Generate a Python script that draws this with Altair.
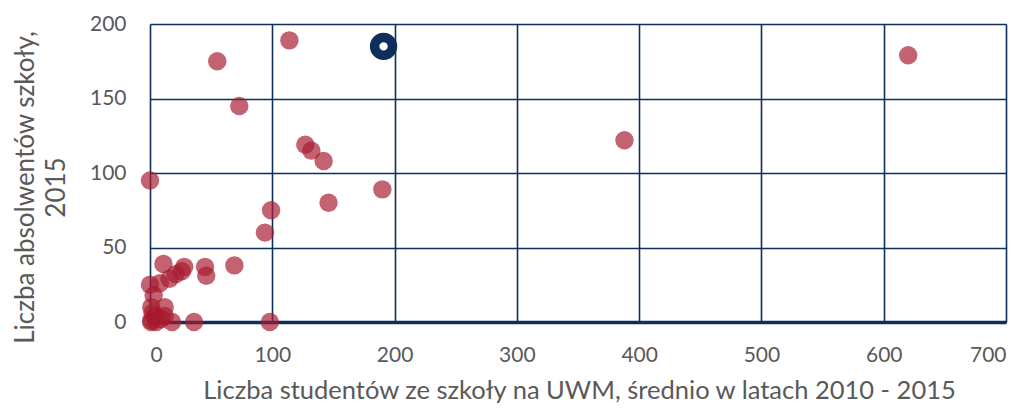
import altair as alt
import pandas as pd

# Data
students = [55, 114, 73, 620, 388, 0, 127, 132, 142, 190, 146, 99, 94, 69, 11, 28, 45, 46, 21, 26, 16,
            8, 0, 3, 1, 12, 4, 1, 2, 12, 5, 1, 18, 36, 98, 9]
graduates = [175, 189, 145, 179, 122, 95, 119, 115, 108, 89, 80, 75, 60, 38, 39, 37, 37, 31, 32, 34, 29,
             26, 25, 18, 10, 10, 4, 1, 6, 4, 0, 0, 0, 0, 0, 2]
hl_students = [191]
hl_graduates = [185]

x_ticks = [0, 100, 200, 300, 400, 500, 600, 700]
y_ticks = [0, 50, 100, 150, 200]

df = pd.DataFrame({"x": students, "y": graduates})
hl = pd.DataFrame({"x": hl_students, "y": hl_graduates})

NAVY = "#0e2f5c"
GREY = "#595959"
FONT = "Lato"

xscale = alt.Scale(domain=[0, 700], nice=False, zero=True)
yscale = alt.Scale(domain=[0, 200], nice=False, zero=True)

xaxis = alt.Axis(
    values=x_ticks, grid=True, gridColor=NAVY, gridWidth=1.6, gridOpacity=1,
    domain=True, domainColor=NAVY, domainWidth=3.5, ticks=False,
    labelFont=FONT, labelFontSize=21, labelColor=GREY, labelPadding=22,
    title="Liczba studentów ze szkoły na UWM, średnio w latach 2010 - 2015",
    titleFont=FONT, titleFontSize=25.5, titleFontWeight="normal", titleColor=GREY,
    titleX=429, titleY=56, titleBaseline="top", titleAlign="center",
)
yaxis = alt.Axis(
    values=y_ticks, grid=True, gridColor=NAVY, gridWidth=1.6, gridOpacity=1,
    domain=False, ticks=False,
    labelFont=FONT, labelFontSize=21, labelColor=GREY, labelPadding=24,
    title=["Liczba absolwentów szkoły,", "2015"],
    titleFont=FONT, titleFontSize=26, titleFontWeight="normal", titleColor=GREY,
    titleAngle=-90, titleX=-138, titleY=163, titleBaseline="top", titleAlign="center",
    titleLineHeight=31,
)

points = alt.Chart(df).mark_circle(size=340, color="#a6192e", opacity=0.68).encode(
    x=alt.X("x:Q", scale=xscale, axis=xaxis),
    y=alt.Y("y:Q", scale=yscale, axis=yaxis),
)

highlight = alt.Chart(hl).mark_point(
    shape="circle", size=320, filled=False, stroke=NAVY, strokeWidth=9.5, fill="white", fillOpacity=1, opacity=1
).encode(
    x=alt.X("x:Q", scale=xscale),
    y=alt.Y("y:Q", scale=yscale),
)

chart = (points + highlight).properties(
    width=856, height=298,
    autosize=alt.AutoSizeParams(type="none"),
    padding={"left": 142, "top": 16, "right": 14, "bottom": 83},
).configure_view(stroke=None).configure(background="white")

chart.save("out.html", embed_options={"renderer": "svg", "actions": False})
